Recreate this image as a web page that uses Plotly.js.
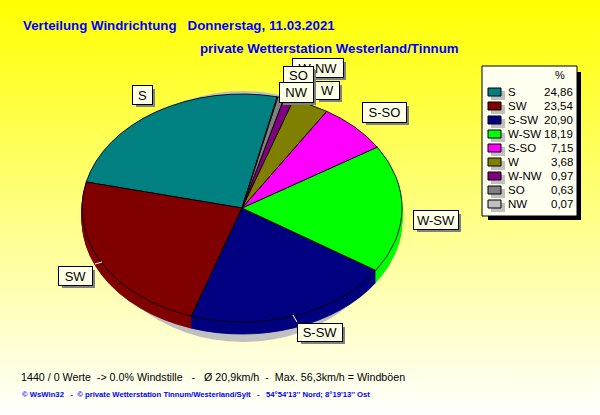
<!DOCTYPE html>
<html><head><meta charset="utf-8">
<script src="https://cdn.plot.ly/plotly-3.0.1.min.js"></script>
<style>html,body{margin:0;padding:0;width:600px;height:415px;overflow:hidden}
#g{width:600px;height:415px;background:linear-gradient(#ffff00,#ffffff)}</style>
</head><body><div id="g"></div>
<script>
const directions = ['S','SW','S-SW','W-SW','S-SO','W','W-NW','SO','NW'];
const shares = [24.86,23.54,20.90,18.19,7.15,3.68,0.97,0.63,0.07];
const sliceColors = ['#008080','#800000','#000080','#00ff00','#ff00ff','#808000','#800080','#808080','#c0c0c0'];
const titleLine1 = 'Verteilung Windrichtung\u00a0\u00a0\u00a0Donnerstag, 11.03.2021';
const titleLine2 = 'private Wetterstation Westerland/Tinnum';
const footerLine1 = '1440 / 0 Werte\u00a0\u00a0-> 0.0% Windstille\u00a0\u00a0\u00a0-\u00a0\u00a0\u00a0\u00d8 20,9km/h\u00a0\u00a0-\u00a0\u00a0Max. 56,3km/h = Windb\u00f6en';
const footerLine2 = '\u00a9 WsWin32\u00a0\u00a0\u00a0-\u00a0\u00a0\u00a9 private Wetterstation Tinnum/Westerland/Sylt\u00a0\u00a0\u00a0-\u00a0\u00a0\u00a054\u00b054\'13\'\' Nord; 8\u00b019\'13\'\' Ost';

const W=600,H=415,cx=242,cy=208,rx=160,ry=114,k=ry/rx,depth=12;
const px=x=>x/W, py=y=>1-y/H;
const pieTrace=(off,top)=>({type:'pie',labels:directions,values:shares,sort:false,direction:'counterclockwise',rotation:-76.8,
  textinfo:'none',hoverinfo:'label+percent',showlegend:false,
  marker:{colors:sliceColors,line:top?{color:'#000',width:1}:{color:sliceColors,width:1}},
  domain:{x:[px(cx-rx),px(cx+rx)],y:[py(cy+rx+off/k),py(cy-rx+off/k)]}});
const traces=[];
for(let d=depth;d>=1;d--) traces.push(pieTrace(d,false));
traces.push(pieTrace(0,true));

const rect=(x0,y0,x1,y1,fill,layer,line)=>({type:'rect',xref:'paper',yref:'paper',x0:px(x0),x1:px(x1),y0:py(y1),y1:py(y0),fillcolor:fill,layer:layer||'above',line:line||{width:0}});
const seg=(x0,y0,x1,y1)=>({type:'line',xref:'paper',yref:'paper',x0:px(x0),x1:px(x1),y0:py(y0),y1:py(y1),layer:'above',line:{color:'#fff',width:1}});
const txt=(s,x,y,anchor,size,color,bold)=>({xref:'paper',yref:'paper',x:px(x),y:py(y),xanchor:anchor,yanchor:'middle',showarrow:false,text:bold?'<b>'+s+'</b>':s,
  font:{family:'Liberation Sans, Arial',size:size,color:color},borderpad:0,borderwidth:0});

const shapes=[
 {type:'circle',xref:'paper',yref:'paper',x0:px(93),x1:px(393),y0:py(342),y1:py(91),fillcolor:'#c0c0c0',layer:'below',line:{width:0}},
 seg(95,264,102,262),seg(356,127,362,122),seg(293,315,297,322),
 rect(488,72,581,220,'#000'),
 rect(482,66,577,216,'#fffff0','above',{color:'#000',width:1})
];
const ann=[];
// callout boxes: drawn as annotations so they overlap in the original's order
const boxes=[['S',132,85,20,19],['S-SO',362,102,44,20],['W-SW',413,210,45,19],['S-SW',297,323,45,18],['SW',58,266,34,19],
 ['W-NW',292,58,51,19],['W',315,81,24,18],['SO',283,66,30,18],['NW',279,82,34,20]];
boxes.forEach(b=>{
 const base={xref:'paper',yref:'paper',xanchor:'left',yanchor:'top',showarrow:false,width:b[3]-1,height:b[4]-1,borderpad:0};
 ann.push(Object.assign({},base,{x:px(b[1]+4),y:py(b[2]+4),text:' ',bgcolor:'#808080',borderwidth:0,font:{size:12}}));
 ann.push(Object.assign({},base,{x:px(b[1]),y:py(b[2]),text:b[0],bgcolor:'#ffffe8',bordercolor:'#000',borderwidth:1,align:'center',valign:'middle',font:{family:'Liberation Sans, Arial',size:13,color:'#000'}}));
});
// legend
ann.push(txt('%',560,75,'center',11,'#000'));
directions.forEach((d,i)=>{
 const y=92+14*i;
 shapes.push(rect(491,y-1,505,y+8,'#c0c0c0'));
 shapes.push(rect(488,y-4,501,y+4,sliceColors[i],'above',{color:'#000',width:1}));
 ann.push(txt(d,508,y,'left',11.5,'#000'));
 ann.push(txt(shares[i].toFixed(2).replace('.',','),573,y,'right',11.5,'#000'));
});
ann.push(txt(titleLine2,200,49,'left',13.3,'#0000ff',true));
ann.push(txt(footerLine1,21,377,'left',10.7,'#000'));
ann.push(txt(footerLine2,22,394,'left',7.7,'#0000ff',true));

const layout={width:W,height:H,margin:{l:0,r:0,t:0,b:0},paper_bgcolor:'rgba(0,0,0,0)',plot_bgcolor:'rgba(0,0,0,0)',showlegend:false,
 title:{text:'<b>'+titleLine1+'</b>',x:px(23),xanchor:'left',y:py(25),yanchor:'middle',font:{family:'Liberation Sans, Arial',size:13.3,color:'#0000ff'}},
 shapes:shapes,annotations:ann};
Plotly.newPlot('g',traces,layout,{displayModeBar:false,staticPlot:true}).then(()=>{
 // the reference pie is a tilted disc: squash the pie layer vertically around its centre
 document.querySelectorAll('#g .pielayer').forEach(n=>n.setAttribute('transform','translate(0,'+(cy*(1-k))+') scale(1,'+k+')'));
});
</script></body></html>
